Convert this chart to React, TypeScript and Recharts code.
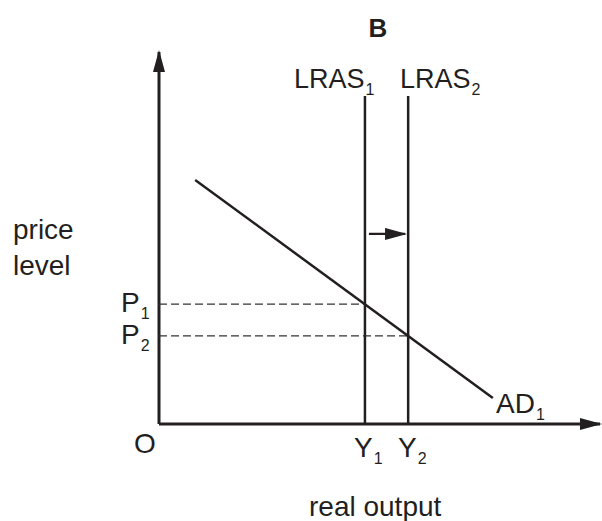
import React from 'react';
import { LineChart, Line, XAxis, YAxis } from 'recharts';

// diagram values, in axis units (0-100 on both axes)
const outputLevels = [46.7, 56.5]; // Y1, Y2
const priceLevels = [32.2, 23.7]; // P1, P2
const lrasTop = 88.2;
const adOutput = [8.2, 75.7];
const adPrice = [65.6, 7.0];
const shiftArrow = [47.6, 55.8];
const shiftArrowLevel = 51.1;

const yAxisLabel = ['price', 'level'];
const xAxisLabel = 'real output';
const title = 'B';

const INK = '#231f20';
const FONT = '"Liberation Sans", Arial, Helvetica, sans-serif';

const seg = (x1, y1, x2, y2) => [
  { x: x1, y: y1 },
  { x: x2, y: y2 },
];

const Sub = ({ x, y, main, sub, size = 27 }) => (
  <text x={x} y={y} fontSize={size} fill={INK} fontFamily={FONT}>
    {main}
    <tspan fontSize={16} dx={1} dy={7}>
      {sub}
    </tspan>
  </text>
);

const App = () => {
  const lineProps = {
    type: 'linear' as const,
    dataKey: 'y',
    dot: false,
    activeDot: false,
    isAnimationActive: false,
    stroke: INK,
  };

  return (
    <div style={{ position: 'absolute', left: 0, top: 0, width: 602, height: 521, background: '#fff' }}>
      <svg width={0} height={0} style={{ position: 'absolute' }}>
        <defs>
          <marker id="head" markerUnits="userSpaceOnUse" markerWidth={22} markerHeight={12} refX={20} refY={6} orient="auto">
            <path d="M0,0 L22,6 L0,12 z" fill={INK} />
          </marker>
        </defs>
      </svg>
      <LineChart width={602} height={521} margin={{ top: 52, right: 2, bottom: 97, left: 159 }}>
        <XAxis type="number" dataKey="x" domain={[0, 100]} hide />
        <YAxis type="number" domain={[0, 100]} hide />
        {/* axes */}
        <Line {...lineProps} data={seg(0, 0, 0, 100)} strokeWidth={3} markerEnd="url(#head)" />
        <Line {...lineProps} data={seg(0, 0, 100, 0)} strokeWidth={3} markerEnd="url(#head)" />
        {/* dashed guides */}
        <Line {...lineProps} data={seg(0, priceLevels[0], outputLevels[0], priceLevels[0])} stroke="#333" strokeWidth={1.3} strokeDasharray="8 4" />
        <Line {...lineProps} data={seg(0, priceLevels[1], outputLevels[1], priceLevels[1])} stroke="#333" strokeWidth={1.3} strokeDasharray="8 4" />
        {/* LRAS */}
        <Line {...lineProps} data={seg(outputLevels[0], 0, outputLevels[0], lrasTop)} strokeWidth={2.5} />
        <Line {...lineProps} data={seg(outputLevels[1], 0, outputLevels[1], lrasTop)} strokeWidth={2.5} />
        {/* AD */}
        <Line {...lineProps} data={seg(adOutput[0], adPrice[0], adOutput[1], adPrice[1])} strokeWidth={2.5} />
        {/* shift arrow */}
        <Line {...lineProps} data={seg(shiftArrow[0], shiftArrowLevel, shiftArrow[1], shiftArrowLevel)} strokeWidth={2.2} markerEnd="url(#head)" />
      </LineChart>
      <svg width={602} height={521} style={{ position: 'absolute', left: 0, top: 0, pointerEvents: 'none' }}>
        <text x={378} y={37} fontSize={26} fontWeight="bold" fill={INK} fontFamily={FONT} textAnchor="middle">
          {title}
        </text>
        <Sub x={294} y={88} main="LRAS" sub="1" />
        <Sub x={400} y={88} main="LRAS" sub="2" />
        <text x={13} y={239} fontSize={28} fill={INK} fontFamily={FONT}>
          {yAxisLabel[0]}
        </text>
        <text x={13} y={275} fontSize={28} fill={INK} fontFamily={FONT}>
          {yAxisLabel[1]}
        </text>
        <Sub x={121} y={312} main="P" sub="1" size={28} />
        <Sub x={121} y={344} main="P" sub="2" size={28} />
        <text x={134} y={453} fontSize={28} fill={INK} fontFamily={FONT}>
          O
        </text>
        <Sub x={354} y={457} main="Y" sub="1" size={28} />
        <Sub x={398} y={457} main="Y" sub="2" size={28} />
        <Sub x={496} y={413} main="AD" sub="1" size={28} />
        <text x={309} y={516} fontSize={28} fill={INK} fontFamily={FONT}>
          {xAxisLabel}
        </text>
      </svg>
    </div>
  );
};

export default App;
